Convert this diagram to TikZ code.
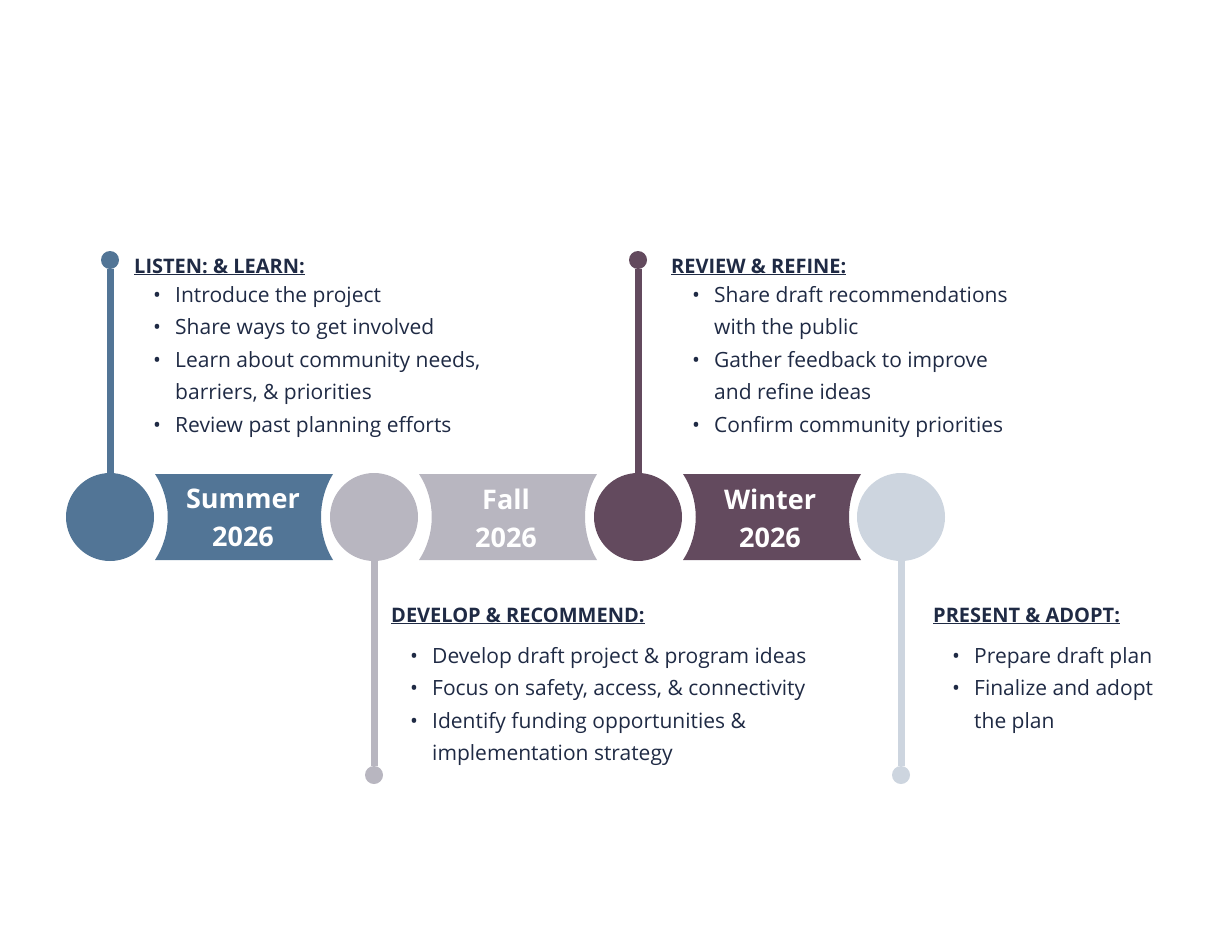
\documentclass[tikz,border=0pt]{standalone}
\usepackage{fontspec}
\setmainfont{Open Sans}
\definecolor{summerblue}{HTML}{527596}
\definecolor{fallgrey}{HTML}{B8B6C0}
\definecolor{winterplum}{HTML}{634A5E}
\definecolor{springgrey}{HTML}{CDD5DF}
\definecolor{navytext}{HTML}{1F2A44}
\newcommand{\bul}{\makebox[22pt][l]{\textbullet}}
\newcommand{\ind}{\hspace*{22pt}}
\tikzset{
  phasecircle/.style={circle,minimum size=88pt,inner sep=0pt},
  stem/.style={line width=7pt},
  stemdot/.style={circle,minimum size=18pt,inner sep=0pt},
  bodytext/.style={anchor=north west,align=left,inner sep=0pt,text=navytext,
    font=\fontsize{21}{32.5}\selectfont},
  headtext/.style={anchor=base west,inner sep=0pt,text=navytext,
    font=\fontsize{20}{24}\selectfont\bfseries},
  bannertext/.style={align=center,text=white,font=\fontsize{27}{38}\selectfont\bfseries}
}
\newcommand{\banner}[2]{%
  \fill[#2] (#1+45,-474) -- (#1+223,-474)
    .. controls (#1+207,-500) and (#1+207,-534) .. (#1+223,-560)
    -- (#1+45,-560) .. controls (#1+62,-534) and (#1+62,-500) .. (#1+45,-474) -- cycle;}
\begin{document}
\begin{tikzpicture}[x=1pt,y=1pt]
\useasboundingbox (0,0) rectangle (1225,-950);
% stems and dots
\node[stemdot,fill=summerblue] (d1) at (110,-260) {};
\node[stemdot,fill=fallgrey] (d2) at (374,-775) {};
\node[stemdot,fill=winterplum] (d3) at (638,-260) {};
\node[stemdot,fill=springgrey] (d4) at (901,-775) {};
\node[phasecircle,fill=summerblue] (c1) at (110,-517) {};
\node[phasecircle,fill=fallgrey] (c2) at (374,-517) {};
\node[phasecircle,fill=winterplum] (c3) at (638,-517) {};
\node[phasecircle,fill=springgrey] (c4) at (901,-517) {};
\draw[stem,summerblue] (d1) -- (c1);
\draw[stem,fallgrey] (d2) -- (c2);
\draw[stem,winterplum] (d3) -- (c3);
\draw[stem,springgrey] (d4) -- (c4);
% banners
\banner{110}{summerblue}
\banner{374}{fallgrey}
\banner{638}{winterplum}
\node[bannertext] (b1) at (243,-518) {Summer\\2026};
\node[bannertext] (b2) at (506,-518) {Fall\\2026};
\node[bannertext] (b3) at (770,-518) {Winter\\2026};
% texts
\node[headtext] (h1) at (134,-273) {\underline{LISTEN: \& LEARN:}};
\node[bodytext] (t1) at (153,-286) {\bul Introduce the project\\\bul Share ways to get involved\\\bul Learn about community needs,\\\ind barriers, \& priorities\\\bul Review past planning efforts};
\node[headtext] (h2) at (391,-622) {\underline{DEVELOP \& RECOMMEND:}};
\node[bodytext] (t2) at (410,-647) {\bul Develop draft project \& program ideas\\\bul Focus on safety, access, \& connectivity\\\bul Identify funding opportunities \&\\\ind implementation strategy};
\node[headtext] (h3) at (671,-273) {\underline{REVIEW \& REFINE:}};
\node[bodytext] (t3) at (692,-286) {\bul Share draft recommendations\\\ind with the public\\\bul Gather feedback to improve\\\ind and refine ideas\\\bul Confirm community priorities};
\node[headtext] (h4) at (933,-622) {\underline{PRESENT \& ADOPT:}};
\node[bodytext] (t4) at (952,-647) {\bul Prepare draft plan\\\bul Finalize and adopt\\\ind the plan};
\end{tikzpicture}
\end{document}
